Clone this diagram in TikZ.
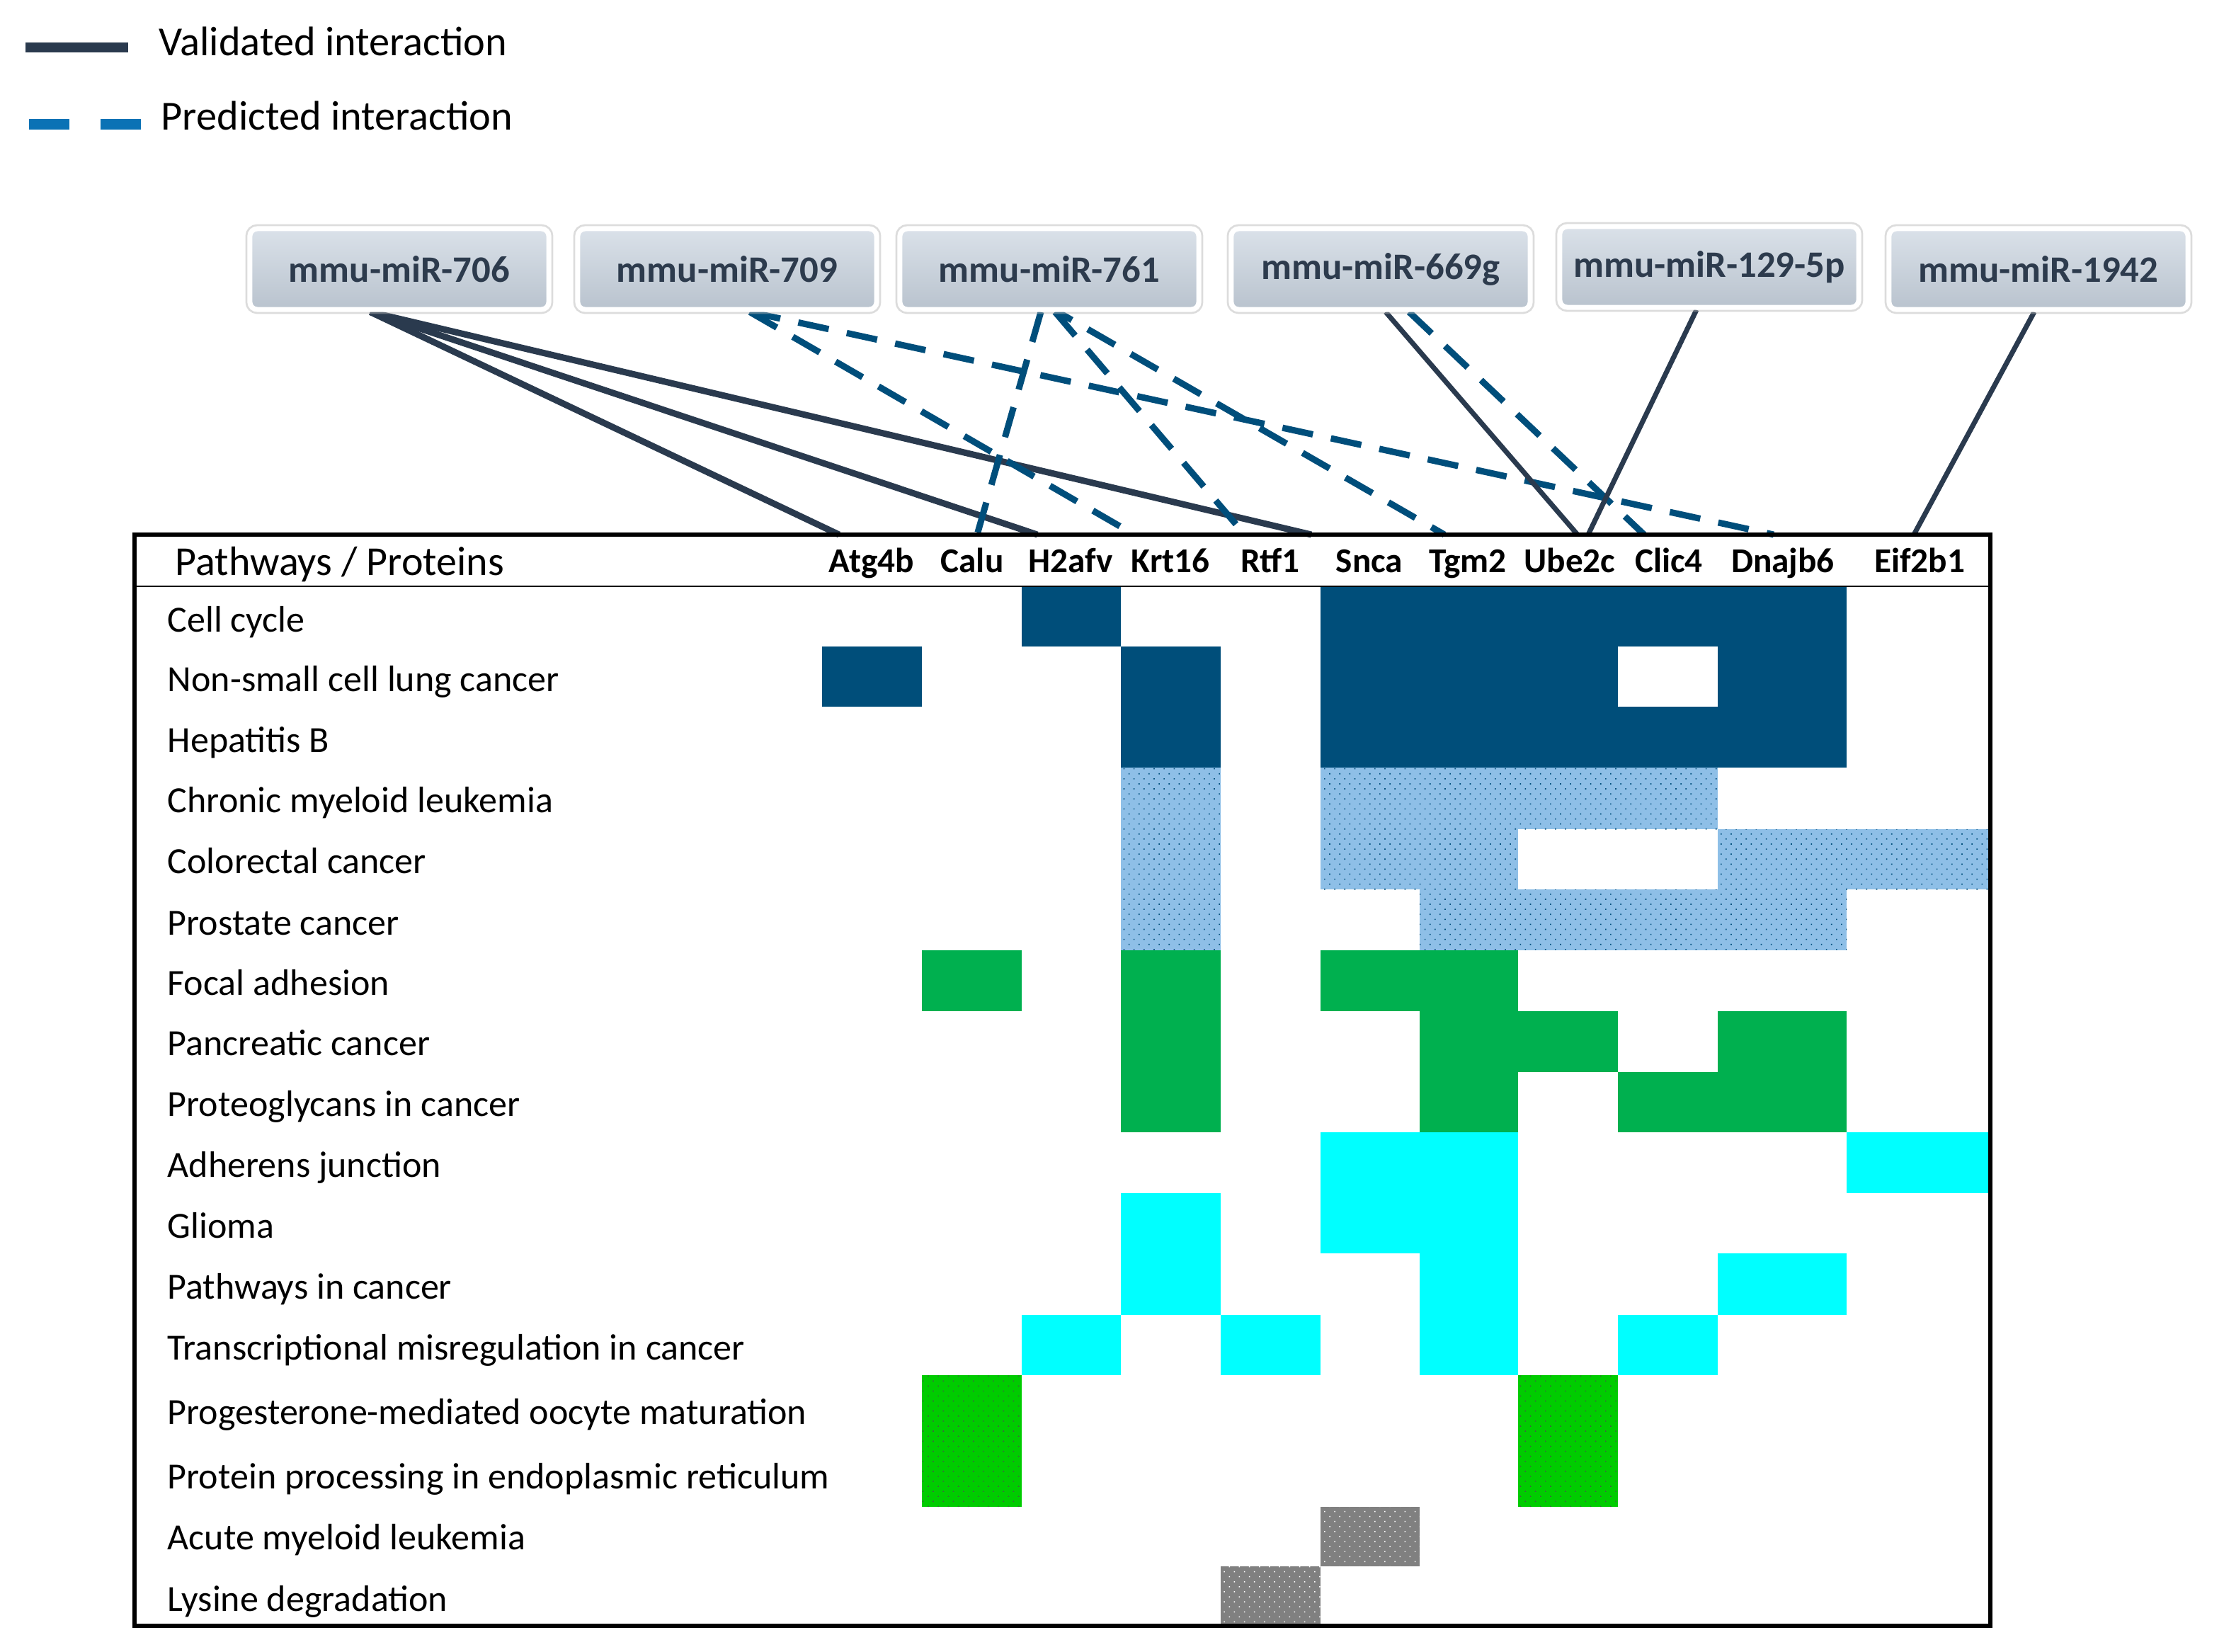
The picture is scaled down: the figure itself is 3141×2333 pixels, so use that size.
\documentclass[tikz,border=0pt]{standalone}
\usepackage{fontspec}
\setmainfont{Carlito}
\usetikzlibrary{patterns.meta}
\definecolor{navy}{HTML}{2A3A4E}
\definecolor{dashblue}{HTML}{004E7B}
\definecolor{legblue}{HTML}{0B72B5}
\definecolor{darkblue}{HTML}{004E7A}
\definecolor{lightblue}{HTML}{8EBFE7}
\definecolor{greenA}{HTML}{00B04F}
\definecolor{cyanA}{HTML}{00FFFF}
\definecolor{greenB}{HTML}{00CC00}
\definecolor{grayA}{HTML}{808080}
\definecolor{boxtop}{HTML}{DAE1E9}
\definecolor{boxbot}{HTML}{B9C3CE}
\definecolor{boxtext}{HTML}{2D3B4D}
\pgfdeclarelayer{bg}
\pgfsetlayers{bg,main}
\def\colx{{1161,1302,1443,1583,1724,1865,2005,2144,2285,2426,2608,2810}}
\def\rowy{{828,913,998,1084,1171,1256,1342,1428,1514,1599,1685,1770,1857,1942,2035,2128,2212,2295}}
\newcommand\cellfill[5]{%
  \pgfmathsetmacro\xa{\colx[#2]}%
  \pgfmathsetmacro\xb{\colx[#3+1]}%
  \pgfmathsetmacro\ya{\rowy[#4]}%
  \pgfmathsetmacro\yb{\rowy[#5+1]}%
  \path[#1] (\xa,\ya) rectangle (\xb,\yb);}
\tikzset{
  mirbox/.style={rounded corners=3pt, minimum width=4.22cm, minimum height=1.14cm, inner sep=0pt,
    draw=white, line width=2pt, top color=boxtop, bottom color=boxbot, text=boxtext,
    font=\bfseries\fontsize{15}{16}\selectfont,
    preaction={draw=black!30, line width=3.6pt, opacity=0.45}},
  solidA/.style={draw=navy, line width=2.56pt},
  solidB/.style={draw=navy, line width=2pt},
  dashA/.style={draw=dashblue, line width=2.56pt, dash pattern=on 12.5pt off 7.4pt},
  dbcell/.style={fill=darkblue},
  whcell/.style={fill=white},
  lbcell/.style={fill=lightblue, postaction={pattern={Dots[distance=2.85pt,angle=45,radius=0.32pt]}, pattern color=darkblue}},
  grcell/.style={fill=greenA},
  cycell/.style={fill=cyanA},
  dgcell/.style={fill=greenB, postaction={pattern={Dots[distance=2.85pt,angle=45,radius=0.27pt]}, pattern color=black!70}},
  gycell/.style={fill=grayA, postaction={pattern={Dots[distance=2.85pt,angle=45,radius=0.3pt]}, pattern color=white}},
  rowlab/.style={anchor=base west, inner sep=0pt, font=\fontsize{14.8}{17}\selectfont},
  protlab/.style={anchor=base, inner sep=0pt, font=\bfseries\fontsize{14}{16}\selectfont},
  leglab/.style={anchor=base west, inner sep=0pt, font=\fontsize{16.6}{18}\selectfont},
}
\begin{document}
\begin{tikzpicture}[x=0.01cm, y=-0.01cm]
\useasboundingbox (0,0) rectangle (3141,2333);

% legend
\coordinate (lsA) at (36,67);
\coordinate (lsB) at (181,67);
\coordinate (ldA) at (41,175.5);
\coordinate (ldB) at (199,175.5);
\draw[navy, line width=3.98pt] (lsA) -- (lsB);
\draw[legblue, line width=4.1pt, dash pattern=on 16.2pt off 12.5pt] (ldA) -- (ldB);
\node[leglab] (lv) at (224,78) {Validated interaction};
\node[leglab] (lp) at (227,183) {Predicted interaction};

% miRNA boxes
\node[mirbox] (m706) at (564,380) {mmu-miR-706};
\node[mirbox] (m709) at (1027,380) {mmu-miR-709};
\node[mirbox] (m761) at (1482,380) {mmu-miR-761};
\node[mirbox] (m669) at (1950,380) {mmu-miR-669g};
\node[mirbox] (m129) at (2414,377) {mmu-miR-129-5p};
\node[mirbox] (m1942) at (2879,380) {mmu-miR-1942};

% end points on the table top
\coordinate (eAtg) at (1185,755);
\coordinate (eH2a) at (1465,755);
\coordinate (eSncA) at (1852,755);
\coordinate (eKrt) at (1602,755);
\coordinate (eDna) at (2505,755);
\coordinate (eCal) at (1380,755);
\coordinate (eRtf) at (1758,755);
\coordinate (eTgm) at (2040,755);
\coordinate (eUbeA) at (2228,755);
\coordinate (eClc) at (2322,755);
\coordinate (eUbeB) at (2243,755);
\coordinate (eEif) at (2703,755);

\begin{pgfonlayer}{bg}
\draw[solidA] ([xshift=-0.41cm]m706.south) -- (eAtg);
\draw[solidA] ([xshift=-0.41cm]m706.south) -- (eH2a);
\draw[solidA] ([xshift=-0.41cm]m706.south) -- (eSncA);
\draw[dashA] ([xshift=0.32cm]m709.south) -- (eKrt);
\draw[dashA] ([xshift=0.32cm]m709.south) -- (eDna);
\draw[dashA] ([xshift=-0.12cm]m761.south) -- (eCal);
\draw[dashA] ([xshift=0.08cm]m761.south) -- (eRtf);
\draw[dashA, dash phase=6pt] ([xshift=0.12cm]m761.south) -- (eTgm);
\draw[solidB] ([xshift=0.07cm]m669.south) -- (eUbeA);
\draw[dashA] ([xshift=0.40cm]m669.south) -- (eClc);
\draw[solidB] ([xshift=-0.18cm]m129.south) -- (eUbeB);
\draw[solidB] ([xshift=-0.06cm]m1942.south) -- (eEif);
\end{pgfonlayer}

% cells: style, col from, col to, row from, row to
\cellfill{dbcell}{2}{2}{0}{0}
\cellfill{dbcell}{0}{0}{1}{1}
\cellfill{dbcell}{3}{3}{1}{2}
\cellfill{dbcell}{5}{9}{0}{2}
\cellfill{whcell}{8}{8}{1}{1}
\cellfill{lbcell}{3}{3}{3}{5}
\cellfill{lbcell}{5}{8}{3}{3}
\cellfill{lbcell}{5}{6}{4}{4}
\cellfill{lbcell}{9}{10}{4}{4}
\cellfill{lbcell}{6}{9}{5}{5}
\cellfill{grcell}{1}{1}{6}{6}
\cellfill{grcell}{3}{3}{6}{8}
\cellfill{grcell}{5}{6}{6}{6}
\cellfill{grcell}{6}{6}{7}{8}
\cellfill{grcell}{7}{7}{7}{7}
\cellfill{grcell}{9}{9}{7}{8}
\cellfill{grcell}{8}{8}{8}{8}
\cellfill{cycell}{5}{6}{9}{10}
\cellfill{cycell}{10}{10}{9}{9}
\cellfill{cycell}{3}{3}{10}{11}
\cellfill{cycell}{6}{6}{11}{12}
\cellfill{cycell}{9}{9}{11}{11}
\cellfill{cycell}{2}{2}{12}{12}
\cellfill{cycell}{4}{4}{12}{12}
\cellfill{cycell}{8}{8}{12}{12}
\cellfill{dgcell}{1}{1}{13}{14}
\cellfill{dgcell}{7}{7}{13}{14}
\cellfill{gycell}{5}{5}{15}{15}
\cellfill{gycell}{4}{4}{16}{16}

% table frame
\coordinate (tNW) at (190,755);
\coordinate (tSE) at (2811,2296);
\coordinate (hW) at (190,828);
\coordinate (hE) at (2811,828);
\draw[line width=0.6pt] (hW) -- (hE);
\draw[line width=1.7pt] (tNW) rectangle (tSE);

% header
\node[anchor=base west, inner sep=0pt, font=\fontsize{16.5}{18}\selectfont] (hdr) at (247,812) {Pathways / Proteins};
\node[protlab] (pAtg) at (1231,808) {Atg4b};
\node[protlab] (pCal) at (1373,808) {Calu};
\node[protlab] (pH2a) at (1512,808) {H2afv};
\node[protlab] (pKrt) at (1653,808) {Krt16};
\node[protlab] (pRtf) at (1794,808) {Rtf1};
\node[protlab] (pSnc) at (1934,808) {Snca};
\node[protlab] (pTgm) at (2073,808) {Tgm2};
\node[protlab] (pUbe) at (2217,808) {Ube2c};
\node[protlab] (pClc) at (2357,808) {Clic4};
\node[protlab] (pDna) at (2518,808) {Dnajb6};
\node[protlab] (pEif) at (2711,808) {Eif2b1};

% row labels
\node[rowlab] (r0) at (236,892) {Cell cycle};
\node[rowlab] (r1) at (236,976) {Non-small cell lung cancer};
\node[rowlab] (r2) at (236,1062) {Hepatitis B};
\node[rowlab] (r3) at (236,1147) {Chronic myeloid leukemia};
\node[rowlab] (r4) at (236,1233) {Colorectal cancer};
\node[rowlab] (r5) at (236,1320) {Prostate cancer};
\node[rowlab] (r6) at (236,1405) {Focal adhesion};
\node[rowlab] (r7) at (236,1490) {Pancreatic cancer};
\node[rowlab] (r8) at (236,1576) {Proteoglycans in cancer};
\node[rowlab] (r9) at (236,1662) {Adherens junction};
\node[rowlab] (r10) at (236,1748) {Glioma};
\node[rowlab] (r11) at (236,1834) {Pathways in cancer};
\node[rowlab] (r12) at (236,1920) {Transcriptional misregulation in cancer};
\node[rowlab] (r13) at (236,2011) {Progesterone-mediated oocyte maturation};
\node[rowlab] (r14) at (236,2102) {Protein processing in endoplasmic reticulum};
\node[rowlab] (r15) at (236,2188) {Acute myeloid leukemia};
\node[rowlab] (r16) at (236,2275) {Lysine degradation};
\end{tikzpicture}
\end{document}
